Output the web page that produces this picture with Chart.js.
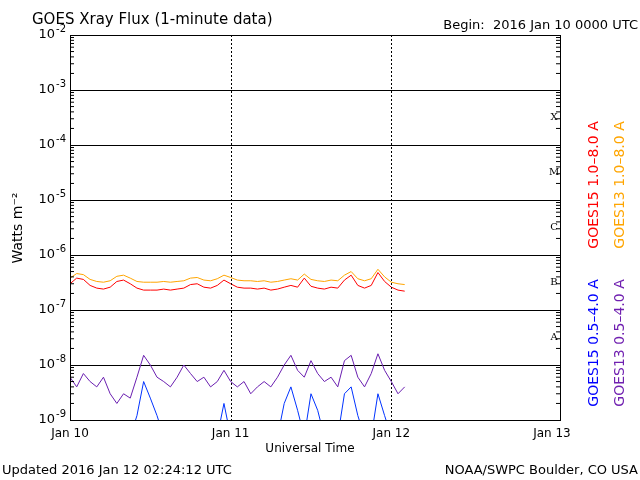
<!DOCTYPE html>
<html><head><meta charset="utf-8">
<script src="https://cdn.jsdelivr.net/npm/chart.js@4/dist/chart.umd.min.js"></script>
<style>html,body{margin:0;background:#fff}#c{display:block}</style>
</head><body>
<canvas id="c" width="640" height="480"></canvas>
<script>
// GOES xray flux, hourly values (hours since Jan 10 00:00)
const hours = [];
for (let h = 0; h <= 50; h++) hours.push(h);

const goes15Long = [3.0e-7,3.8e-7,3.6e-7,2.8e-7,2.5e-7,2.4e-7,2.6e-7,3.3e-7,3.5e-7,3.0e-7,2.5e-7,2.3e-7,
  2.3e-7,2.3e-7,2.4e-7,2.3e-7,2.4e-7,2.5e-7,2.9e-7,3.0e-7,2.6e-7,2.5e-7,2.8e-7,3.5e-7,3.0e-7,
  2.6e-7,2.5e-7,2.5e-7,2.4e-7,2.5e-7,2.3e-7,2.4e-7,2.6e-7,2.8e-7,2.6e-7,3.8e-7,2.7e-7,2.5e-7,
  2.4e-7,2.6e-7,2.5e-7,3.5e-7,4.3e-7,2.8e-7,2.5e-7,2.8e-7,4.8e-7,3.3e-7,2.6e-7,2.3e-7,2.2e-7];
const goes13Long = [3.8e-7,4.6e-7,4.4e-7,3.6e-7,3.3e-7,3.2e-7,3.4e-7,4.1e-7,4.3e-7,3.8e-7,3.3e-7,3.2e-7,
  3.2e-7,3.2e-7,3.3e-7,3.2e-7,3.3e-7,3.4e-7,3.8e-7,3.9e-7,3.5e-7,3.4e-7,3.7e-7,4.3e-7,3.9e-7,
  3.5e-7,3.4e-7,3.4e-7,3.3e-7,3.4e-7,3.2e-7,3.3e-7,3.5e-7,3.7e-7,3.5e-7,4.5e-7,3.6e-7,3.4e-7,
  3.3e-7,3.5e-7,3.4e-7,4.3e-7,5.0e-7,3.7e-7,3.4e-7,3.7e-7,5.5e-7,4.0e-7,3.2e-7,3.0e-7,2.9e-7];
const goes13Short = [6e-9,4e-9,7e-9,5e-9,4e-9,6e-9,3e-9,2e-9,3e-9,2.5e-9,6e-9,1.5e-8,
  1.0e-8,6e-9,5e-9,4e-9,6e-9,1.0e-8,7e-9,5e-9,6e-9,4e-9,5e-9,8e-9,5e-9,
  4e-9,5e-9,3e-9,4e-9,5e-9,4e-9,6e-9,1.0e-8,1.5e-8,8e-9,6e-9,1.2e-8,7e-9,
  5e-9,6e-9,4e-9,1.2e-8,1.5e-8,6e-9,4e-9,7e-9,1.6e-8,8e-9,5e-9,3e-9,4e-9];
const goes15Short = [5e-10,5e-10,5e-10,5e-10,5e-10,5e-10,5e-10,5e-10,5e-10,5e-10,1.2e-9,5e-9,
  2.5e-9,1.2e-9,5e-10,5e-10,5e-10,5e-10,5e-10,5e-10,5e-10,5e-10,5e-10,2e-9,5e-10,
  5e-10,5e-10,5e-10,5e-10,5e-10,5e-10,5e-10,2e-9,4e-9,1.5e-9,5e-10,3e-9,1.5e-9,
  5e-10,5e-10,5e-10,3e-9,4e-9,1.2e-9,5e-10,5e-10,3e-9,1.2e-9,5e-10,5e-10,5e-10];

const dayLabels = ['Jan 10','Jan 11','Jan 12','Jan 13'];
const decades = [-9,-8,-7,-6,-5,-4,-3,-2];
const classLabels = [['X',-3.5],['M',-4.5],['C',-5.5],['B',-6.5],['A',-7.5]];

const font = '"DejaVu Sans", sans-serif';
function mk(vals, color){
  return { data: vals.map((v,i)=>({x:hours[i], y:v})), borderColor: color, borderWidth: 1,
    pointRadius: 0, tension: 0, fill: false };
}

const overlay = {
  id: 'overlay',
  afterDraw(chart){
    const {ctx, chartArea:a, scales:{x, y}} = chart;
    ctx.save();
    ctx.strokeStyle = '#000'; ctx.lineWidth = 1;
    // dotted day lines
    ctx.setLineDash([2,2]);
    [24,48].forEach(h => { const px = Math.round(x.getPixelForValue(h))+0.5;
      ctx.beginPath(); ctx.moveTo(px,a.top); ctx.lineTo(px,a.bottom); ctx.stroke(); });
    ctx.setLineDash([]);
    ctx.strokeRect(a.left+0.5, a.top+0.5, a.right-a.left, a.bottom-a.top);
    // minor y ticks
    decades.forEach(d => { if (d === -2) return;
      for (let m = 2; m <= 9; m++){ const py = y.getPixelForValue(m*Math.pow(10,d));
        ctx.beginPath(); ctx.moveTo(a.left,py); ctx.lineTo(a.left+4,py); ctx.stroke();
        ctx.beginPath(); ctx.moveTo(a.right,py); ctx.lineTo(a.right-4,py); ctx.stroke(); } });
    ctx.fillStyle = '#000';
    // y labels
    decades.forEach(d => { const py = y.getPixelForValue(Math.pow(10,d));
      ctx.font = '13px '+font; ctx.textAlign='right'; ctx.textBaseline='middle';
      const sup = String(d); ctx.font='10px '+font; const sw = ctx.measureText(sup).width;
      ctx.fillText(sup, a.left-4, py-6);
      ctx.font = '13px '+font; ctx.fillText('10', a.left-5-sw, py); });
    // x labels
    ctx.font = '12px '+font; ctx.textAlign='center'; ctx.textBaseline='top';
    dayLabels.forEach((l,i)=> ctx.fillText(l, x.getPixelForValue(i*24), a.bottom+8));
    ctx.fillText('Universal Time', 310, a.bottom+23);
    // class letters
    ctx.font = '10px "DejaVu Serif", serif'; ctx.textAlign='center'; ctx.textBaseline='middle';
    classLabels.forEach(([c,e]) => ctx.fillText(c, a.right-6, y.getPixelForValue(Math.pow(10,e))));
    // titles
    ctx.textBaseline='alphabetic';
    ctx.font = '15px '+font; ctx.textAlign='left'; ctx.fillText('GOES Xray Flux (1-minute data)', 32, 24);
    ctx.font = '13px '+font; ctx.textAlign='right'; ctx.fillText('Begin:  2016 Jan 10 0000 UTC', 638, 29);
    ctx.textAlign='left'; ctx.fillText('Updated 2016 Jan 12 02:24:12 UTC', 2, 474);
    ctx.textAlign='right'; ctx.fillText('NOAA/SWPC Boulder, CO USA', 638, 474);
    // rotated texts
    const rot = (txt, cx, cy, col, f) => { ctx.save(); ctx.translate(cx,cy); ctx.rotate(-Math.PI/2);
      ctx.fillStyle = col; ctx.font = f; ctx.textAlign='center'; ctx.textBaseline='middle';
      ctx.fillText(txt,0,0); ctx.restore(); };
    rot('Watts m\u207B\u00B2', 18, 228, '#000', '14px '+font);
    rot('GOES15 1.0\u20138.0 A', 594, 185, '#ff0000', '14px '+font);
    rot('GOES13 1.0\u20138.0 A', 620, 185, '#ffa500', '14px '+font);
    rot('GOES15 0.5\u20134.0 A', 594, 343, '#0000ff', '14px '+font);
    rot('GOES13 0.5\u20134.0 A', 620, 343, '#7020b0', '14px '+font);
    ctx.restore();
  }
};

new Chart(document.getElementById('c'), {
  type: 'line',
  data: { datasets: [ mk(goes15Short,'#0033ff'), mk(goes13Short,'#6a1fb0'),
    mk(goes13Long,'#ffa500'), mk(goes15Long,'#ff0000') ] },
  options: {
    responsive: false, animation: false, clip: true,
    layout: { padding: { left: 70, right: 80, top: 35, bottom: 60 } },
    plugins: { legend: { display: false }, tooltip: { enabled: false } },
    scales: {
      x: { type: 'linear', min: 0, max: 73.2, display: false },
      y: { type: 'logarithmic', min: 1e-9, max: 1e-2, display: true,
        afterBuildTicks: s => { s.ticks = decades.map(d => ({ value: Math.pow(10,d) })); },
        ticks: { display: false }, border: { display: false },
        grid: { color: '#000', lineWidth: 1, drawTicks: false } }
    }
  },
  plugins: [overlay]
});
</script>
</body></html>
